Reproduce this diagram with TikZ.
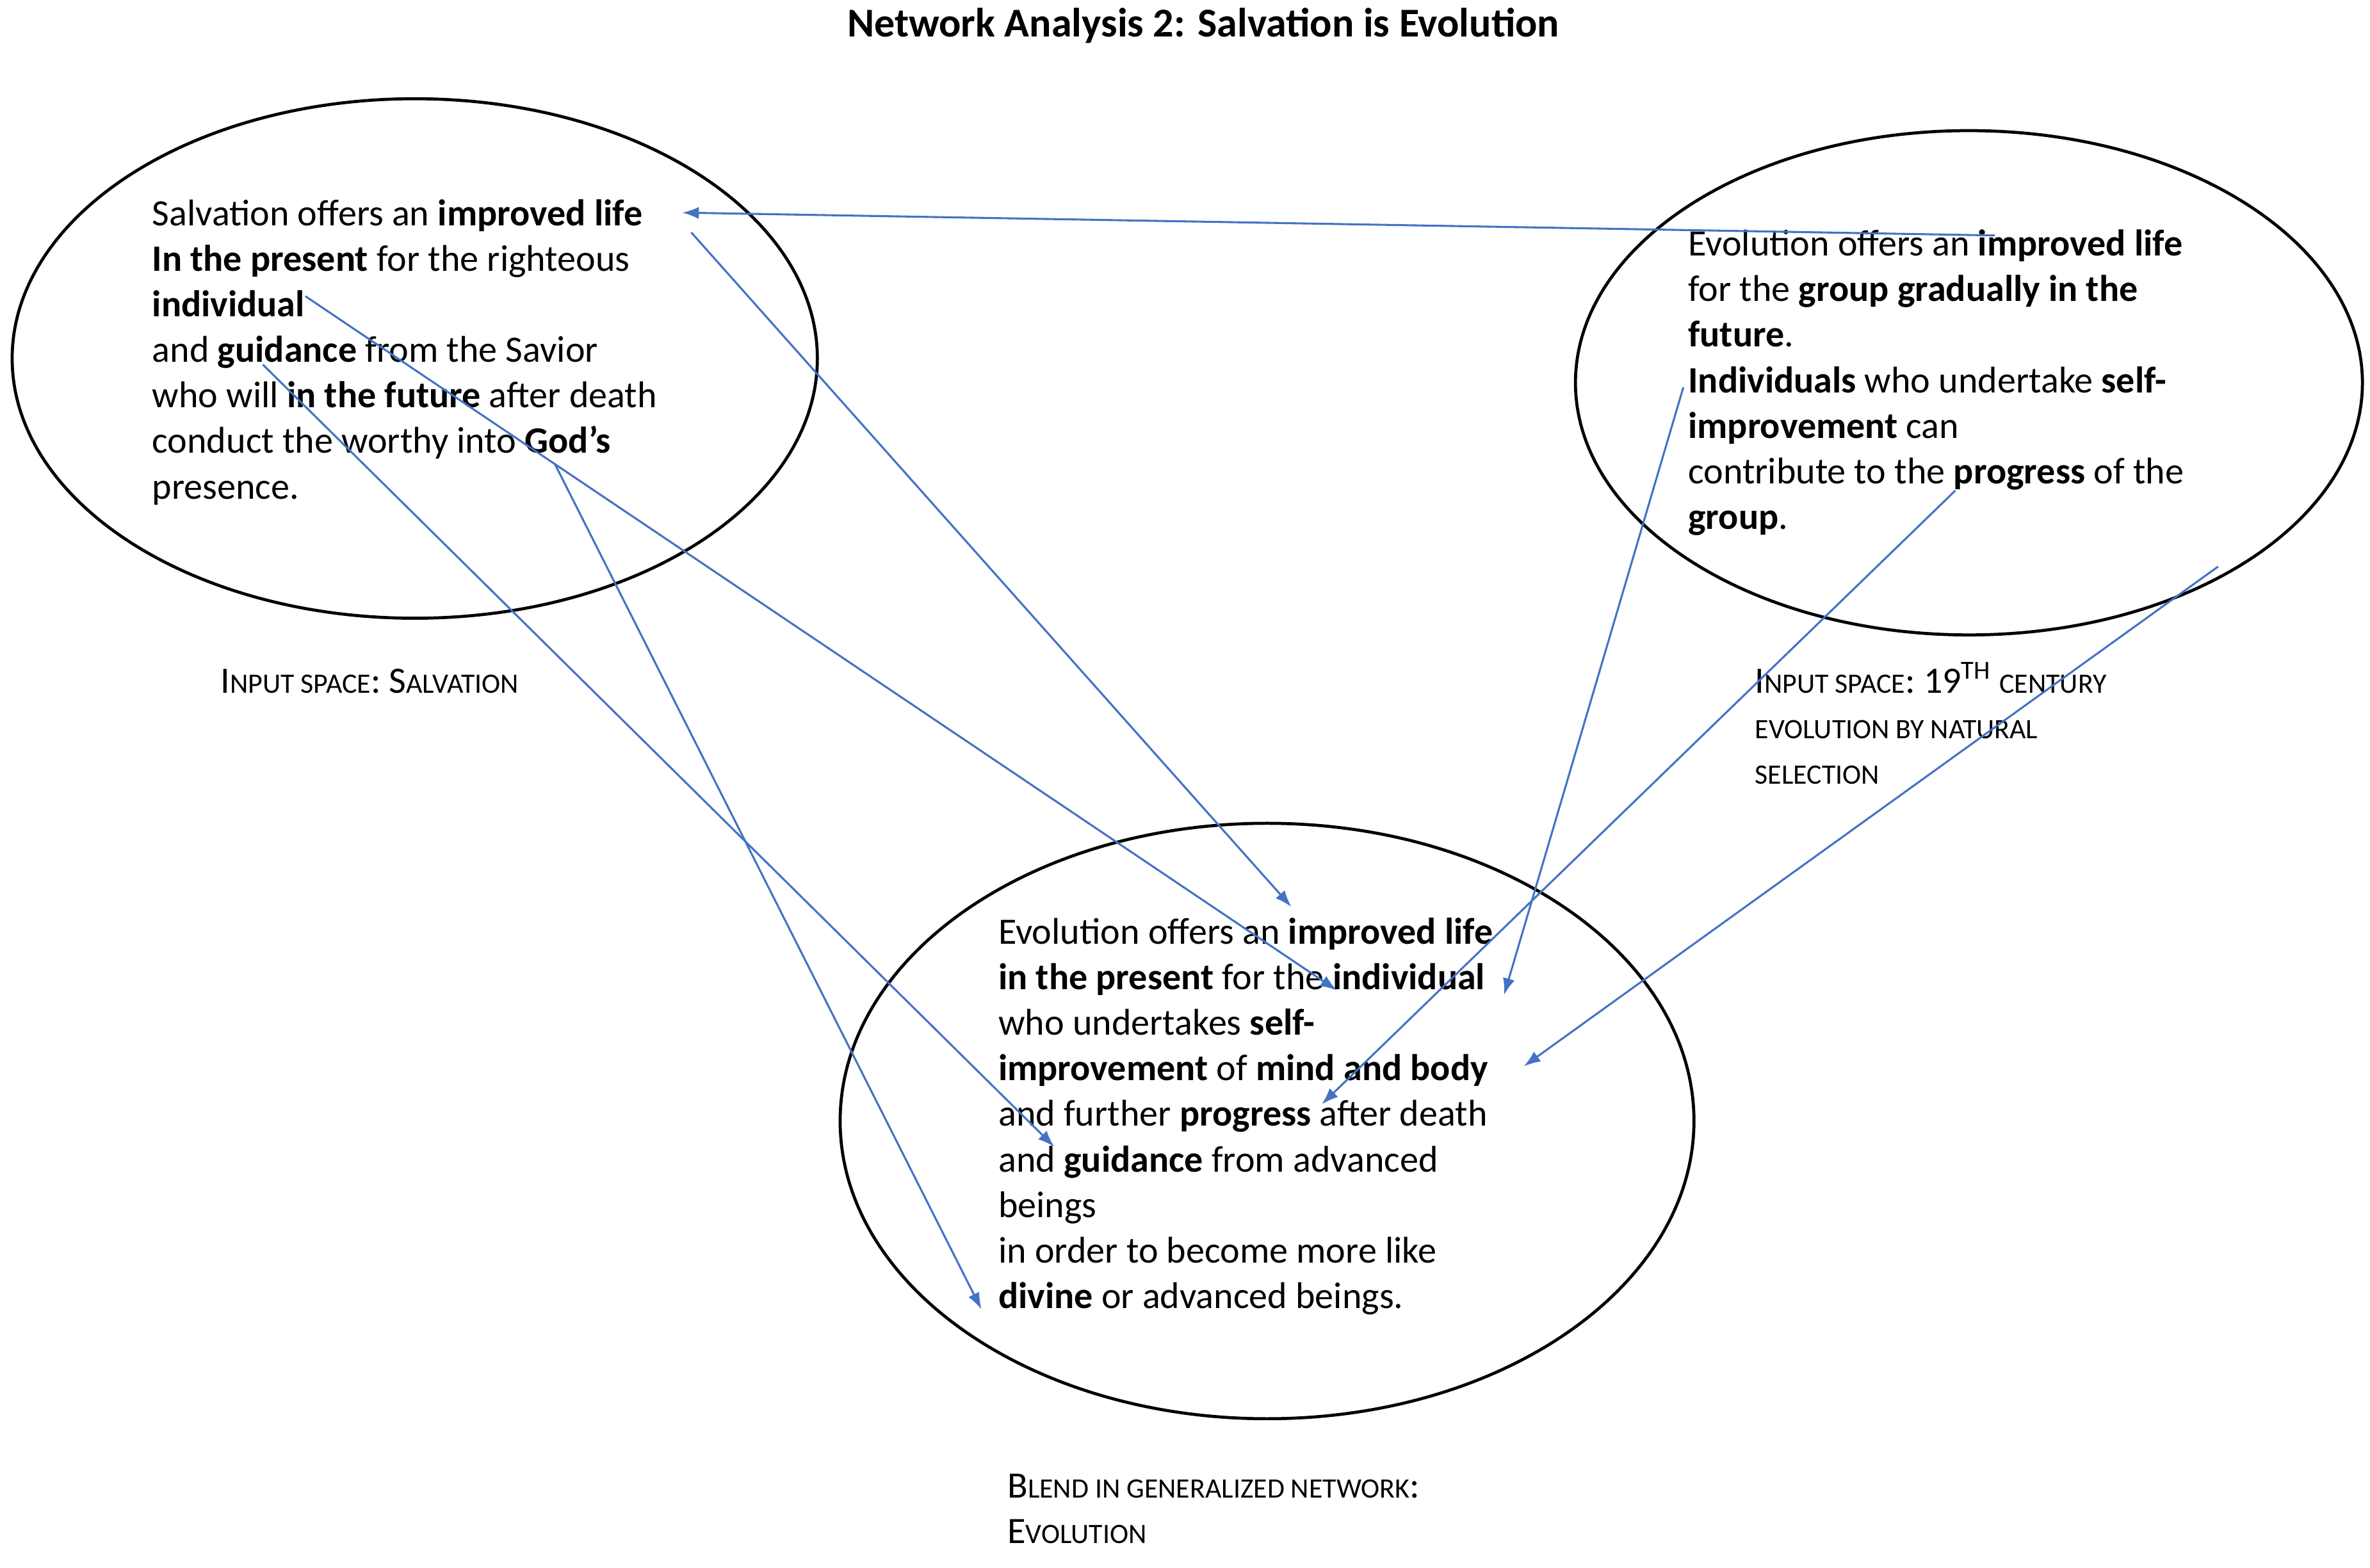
\documentclass[tikz,border=0pt]{standalone}
\usepackage{fontspec}
\setmainfont{Carlito}
\usetikzlibrary{arrows.meta}
\newcommand{\fsc}[2]{#1{\fontsize{18.5}{22}\selectfont #2}}
\begin{document}
\begin{tikzpicture}[x=1pt,y=-1pt,
  ell/.style={draw=black,line width=2pt},
  txt/.style={anchor=north west,inner sep=0,align=left,font=\fontsize{24.5}{30}\selectfont},
  lab/.style={anchor=north west,inner sep=0,align=left,font=\fontsize{24.5}{30}\selectfont},
  arr/.style={draw={rgb,255:red,68;green,114;blue,196},line width=1.3pt,-{Latex[length=11pt,width=8pt]}}]
\useasboundingbox (0,0) rectangle (1560,1032);
\node[font=\fontsize{27}{30}\selectfont\bfseries] (title) at (792,17) {Network Analysis 2: Salvation is Evolution};
\draw[ell] (273,236) ellipse [x radius=265, y radius=171];
\draw[ell] (1296,252) ellipse [x radius=259, y radius=166];
\draw[ell] (834,738) ellipse [x radius=281, y radius=196];
\node[txt] (lt) at (100,131) {Salvation offers an \textbf{improved life}\\
\textbf{In the present} for the righteous\\
\textbf{individual}\\
and \textbf{guidance} from the Savior\\
who will \textbf{in the future} after death\\
conduct the worthy into \textbf{God’s}\\
presence.};
\node[txt] (rt) at (1111,151) {Evolution offers an \textbf{improved life}\\
for the \textbf{group gradually in the}\\
\textbf{future}.\\
\textbf{Individuals} who undertake \textbf{self-}\\
\textbf{improvement} can\\
contribute to the \textbf{progress} of the\\
\textbf{group}.};
\node[txt] (bt) at (657,604) {Evolution offers an \textbf{improved life}\\
\textbf{in the present} for the \textbf{individual}\\
who undertakes \textbf{self-}\\
\textbf{improvement} of \textbf{mind and body}\\
and further \textbf{progress} after death\\
and \textbf{guidance} from advanced\\
beings\\
in order to become more like\\
\textbf{divine} or advanced beings.};
\node[lab] (l1) at (145,440) {\fsc{I}{NPUT SPACE}: \fsc{S}{ALVATION}};
\node[lab] (l2) at (1155,436) {\fsc{I}{NPUT SPACE}: 19\textsuperscript{TH} \fsc{}{CENTURY}\\ \fsc{}{EVOLUTION BY NATURAL}\\ \fsc{}{SELECTION}};
\node[lab] (l3) at (663,970) {\fsc{B}{LEND IN GENERALIZED NETWORK}:\\ \fsc{E}{VOLUTION}};
\coordinate (a1s) at (1313,155); \coordinate (a1e) at (449,140);
\coordinate (a2s) at (455,153); \coordinate (a2e) at (850,597);
\coordinate (a3s) at (201,195); \coordinate (a3e) at (880,652);
\coordinate (a4s) at (173,240); \coordinate (a4e) at (694,755);
\coordinate (a5s) at (365,305); \coordinate (a5e) at (646,862);
\coordinate (a6s) at (1108,255); \coordinate (a6e) at (990,655);
\coordinate (a7s) at (1287,323); \coordinate (a7e) at (870,727);
\coordinate (a8s) at (1460,373); \coordinate (a8e) at (1003,702);
\foreach \i in {1,...,8} \draw[arr] (a\i s) -- (a\i e);
\end{tikzpicture}
\end{document}
